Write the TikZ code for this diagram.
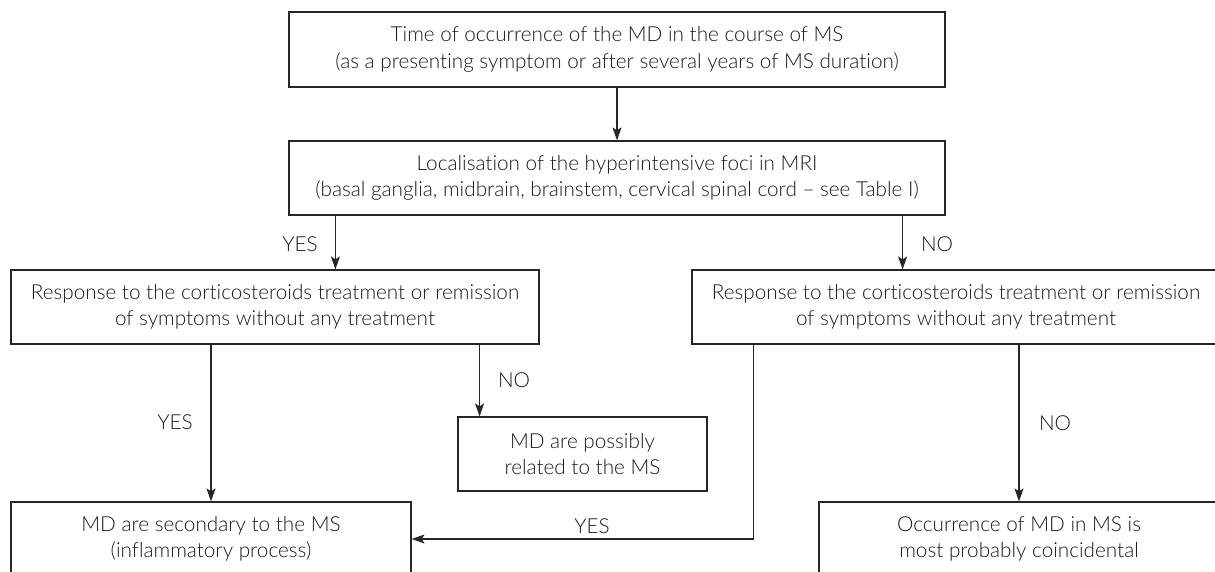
\documentclass[tikz,border=0pt]{standalone}
\usepackage{fontspec}
\setmainfont{Lato}[UprightFont={* Light}, Ligatures={NoCommon, NoRequired, TeX}, Contextuals={NoAlternate}]
\usepackage{tikz}
\usetikzlibrary{arrows.meta, positioning, calc}
\usepackage{xcolor}

\begin{document}
\begin{tikzpicture}[
    x=1pt, y=1pt,
    stepbox/.style={rectangle, draw=black!85, line width=1.2pt, minimum height=74pt, inner sep=0pt, align=center, text=black!90, font=\fontsize{20.7}{26.5}\selectfont},
    arrow/.style={-{Stealth[length=13pt, width=9pt, inset=3pt]}, line width=1.1pt, draw=black!85},
    lbl/.style={font=\fontsize{20.7}{26.5}\selectfont, text=black!90, inner sep=0pt}
]
    \clip (0,0) rectangle (1215,572);
    \useasboundingbox (0,0) rectangle (1215,572);

    % Time of occurrence
    \node[stepbox, minimum width=656pt, minimum height=75pt] (time) at (617, 522.5) {Time of occurrence of the MD in the course of MS\\(as a presenting symptom or after several years of MS duration)};

    % Localisation in MRI
    \node[stepbox, minimum width=656pt] (loc) at (617, 394) {Localisation of the hyperintensive foci in MRI\\(basal ganglia, midbrain, brainstem, cervical spinal cord -- see Table I)};
    \draw[arrow] (time) -- (loc);

    % Response, left and right
    \node[stepbox, minimum width=528pt] (respL) at (275, 265) {Response to the corticosteroids treatment or remission\\of symptoms without any treatment};
    \node[stepbox, minimum width=528pt] (respR) at (956, 265) {Response to the corticosteroids treatment or remission\\of symptoms without any treatment};
    \draw[arrow] ([xshift=47pt]loc.south west) -- ([xshift=47pt]loc.south west |- respL.north);
    \draw[arrow] ([xshift=-43pt]loc.south east) -- ([xshift=-43pt]loc.south east |- respR.north);

    % Outcomes
    \node[stepbox, minimum width=249pt] (poss) at (582.5, 118) {MD are possibly\\related to the MS};
    \node[stepbox, minimum width=400pt] (sec) at (211, 33) {MD are secondary to the MS\\(inflammatory process)};
    \node[stepbox, minimum width=400pt] (coinc) at (1019, 33) {Occurrence of MD in MS is\\most probably coincidental};
    \draw[arrow] (respL.south -| sec) -- (sec.north);
    \draw[arrow] ([xshift=-60pt]respL.south east) -- ([xshift=-60pt]respL.south east |- poss.north);
    \draw[arrow] ([xshift=62pt]respR.south west) |- (sec.east);
    \draw[arrow] (respR.south -| coinc) -- (coinc.north);

    % Annotations
    \node[lbl] (yes1) at (300, 328) {YES};
    \node[lbl] (no1) at (937, 328) {NO};
    \node[lbl] (yes2) at (175, 150) {YES};
    \node[lbl] (no2) at (514, 192) {NO};
    \node[lbl] (yes3) at (592, 46) {YES};
    \node[lbl] (no3) at (1055, 149) {NO};
\end{tikzpicture}
\end{document}
